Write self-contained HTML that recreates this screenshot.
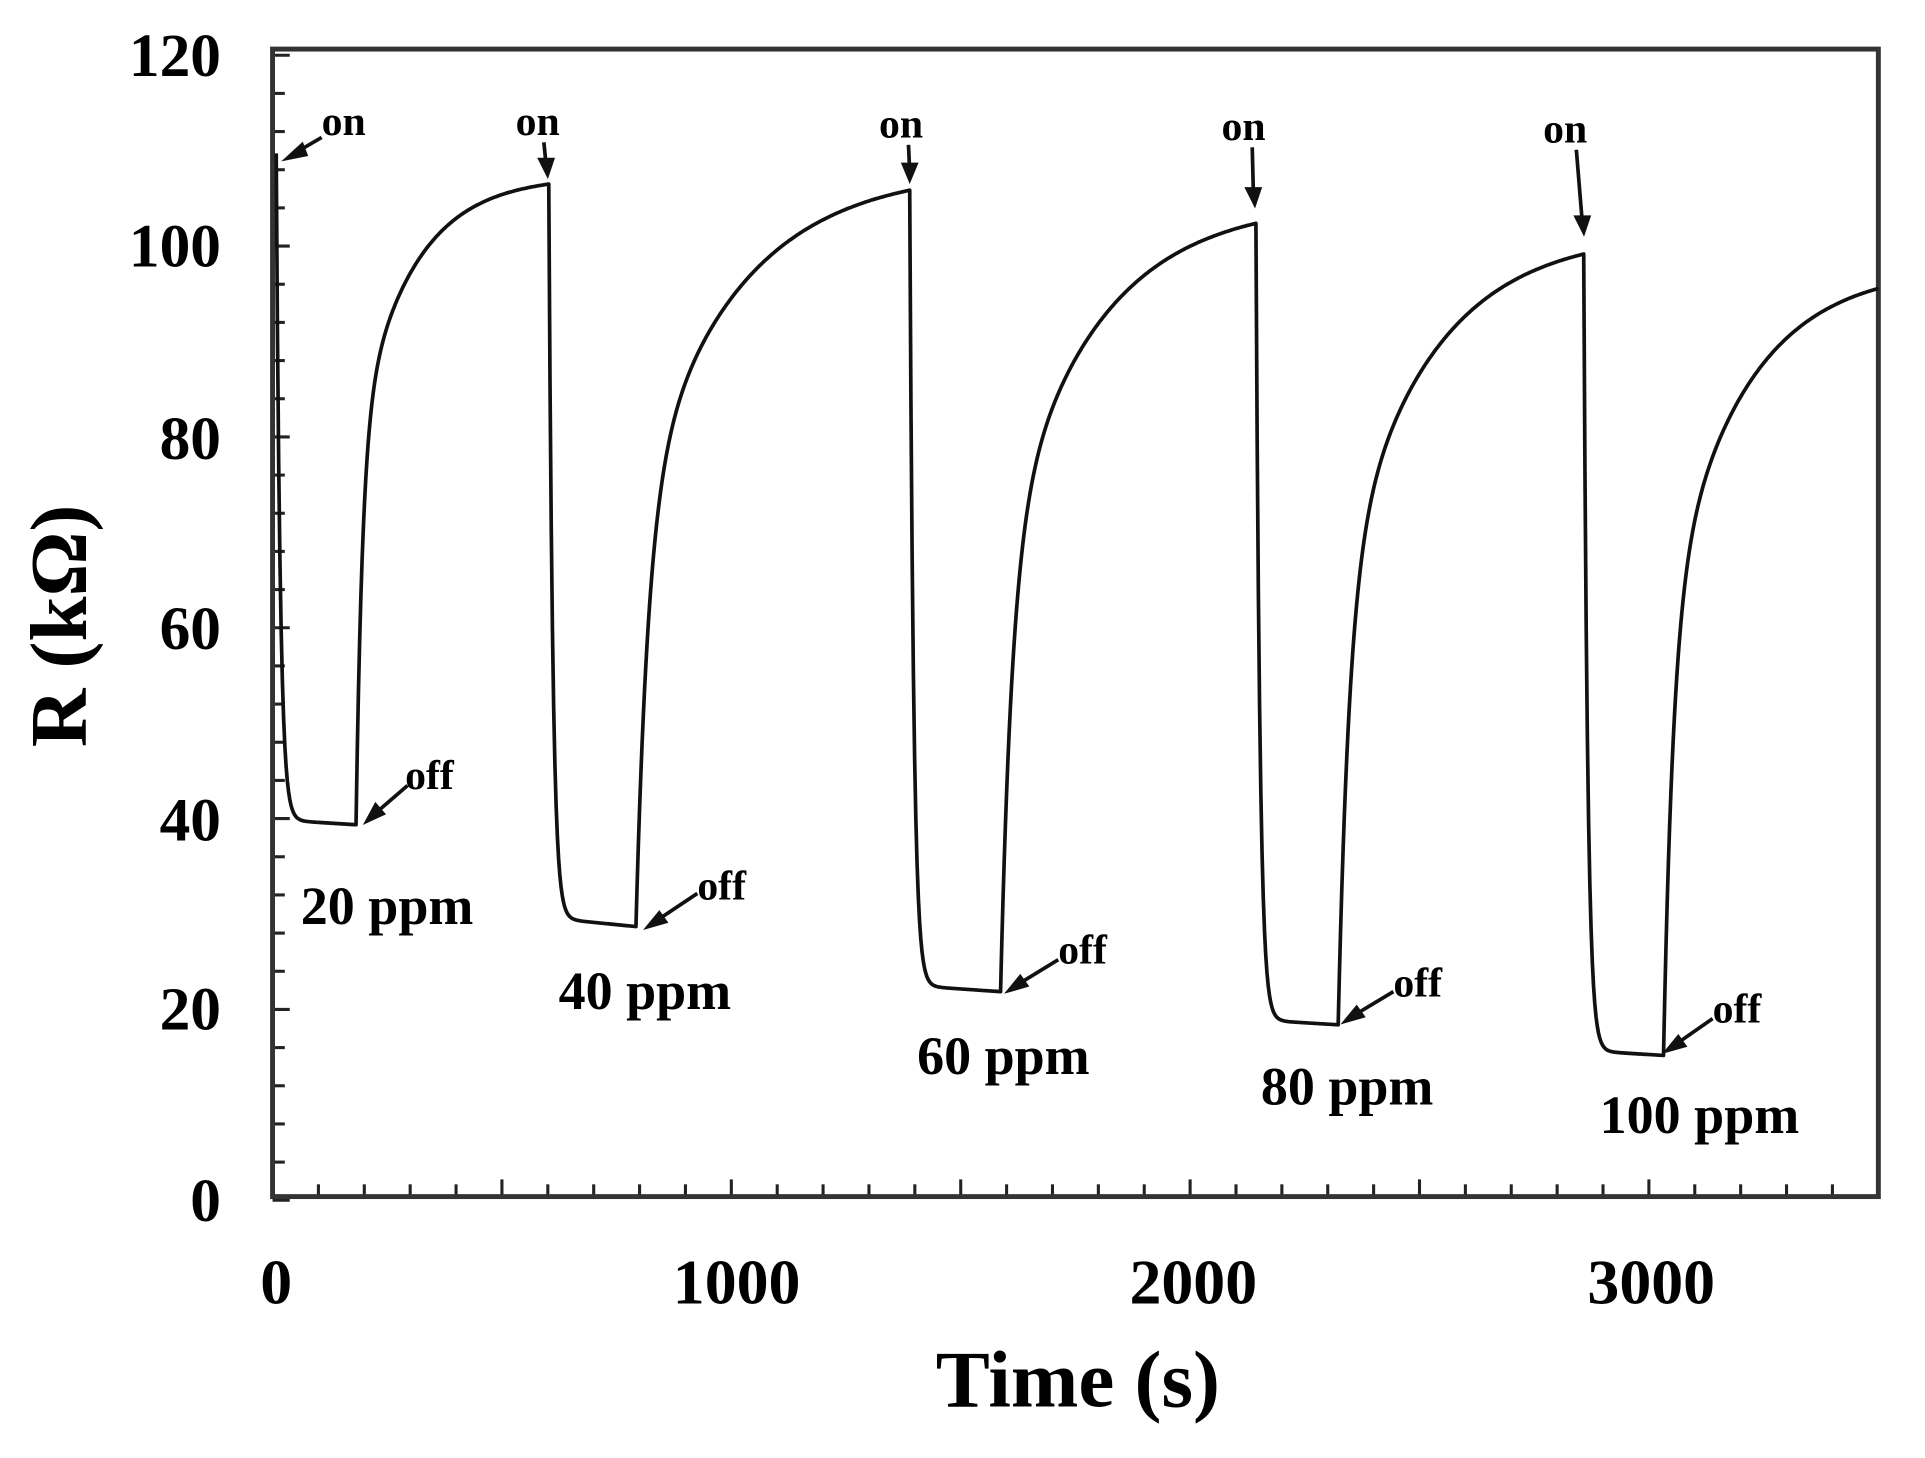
<!DOCTYPE html>
<html><head><meta charset="utf-8"><style>
html,body{margin:0;padding:0;background:#fff;}
svg{display:block;}
text{font-family:"Liberation Serif",serif;font-weight:bold;fill:#000;}
</style></head><body>
<svg id="s" width="1925" height="1458" viewBox="0 0 1568 1188" preserveAspectRatio="none" xmlns="http://www.w3.org/2000/svg">
<rect x="0" y="0" width="1568" height="1188" fill="#fff"/>
<g id="ticks" stroke="#222" stroke-width="2.5"></g>
<rect x="222" y="40" width="1308" height="935" fill="none" stroke="#333" stroke-width="4"/>
<path id="curve" fill="none" stroke="#111" stroke-width="3" stroke-linejoin="round"/>
<g font-size="50" text-anchor="end">
<text x="180" y="62">120</text><text x="180" y="217">100</text><text x="180" y="374">80</text>
<text x="180" y="529">60</text><text x="180" y="685">40</text><text x="180" y="839">20</text><text x="180" y="995">0</text>
</g>
<g font-size="52" text-anchor="middle">
<text x="225" y="1062">0</text><text x="600" y="1062">1000</text><text x="972" y="1062">2000</text><text x="1345" y="1062">3000</text>
</g>
<text x="878" y="1146" font-size="66" text-anchor="middle">Time (s)</text>
<text transform="translate(70,510) rotate(-90)" font-size="66" text-anchor="middle">R (kΩ)</text>
<g font-size="34">
<text x="262" y="110">on</text><text x="420" y="110">on</text><text x="716" y="112">on</text><text x="995" y="114">on</text><text x="1257" y="116">on</text>
<text x="330" y="643">off</text><text x="568" y="733">off</text><text x="862" y="785">off</text><text x="1135" y="812">off</text><text x="1395" y="833">off</text>
</g>
<g font-size="44">
<text x="245" y="753">20 ppm</text><text x="455" y="822">40 ppm</text><text x="747" y="875">60 ppm</text><text x="1027" y="900">80 ppm</text><text x="1303" y="923">100 ppm</text>
</g>
<g stroke="#111" stroke-width="3" fill="#111">
<line x1="262" y1="112" x2="238" y2="126"/><polygon points="234,129 246,118 249,126"/>
<line x1="443" y1="116" x2="445" y2="136"/><polygon points="446,142 440,130 450,130"/>
<line x1="740" y1="118" x2="741" y2="140"/><polygon points="741,146 736,134 746,134"/>
<line x1="1020" y1="120" x2="1021" y2="160"/><polygon points="1022,166 1016,154 1026,154"/>
<line x1="1284" y1="122" x2="1289" y2="183"/><polygon points="1290,189 1284,177 1294,177"/>
<line x1="332" y1="640" x2="302" y2="666"/><polygon points="299,669 306,656 312,663"/>
<line x1="568" y1="728" x2="532" y2="752"/><polygon points="528,755 537,744 542,751"/>
<line x1="862" y1="782" x2="826" y2="804"/><polygon points="822,807 831,796 836,803"/>
<line x1="1135" y1="808" x2="1100" y2="829"/><polygon points="1096,832 1105,821 1110,828"/>
<line x1="1395" y1="830" x2="1362" y2="853"/><polygon points="1358,856 1367,845 1372,852"/>
</g>
</svg>
<script>
var tk=document.getElementById('ticks'),h='';
for(var t=0;t<=3500;t+=100){var x=222+t*0.3737;var L=(t%500==0)?14:10;h+='<line x1="'+x+'" y1="975" x2="'+x+'" y2="'+(975-L)+'"/>';}
for(var v=0;v<=120;v+=4){var y=978-v*7.775;var L=(v%20==0)?14:10;h+='<line x1="222" y1="'+y+'" x2="'+(222+L)+'" y2="'+y+'"/>';}
tk.innerHTML=h;
var cyc=[
 {on:225,top:125,low:668,off:290,lowEnd:672},
 {on:447,top:150,low:748,off:518,lowEnd:755},
 {on:741,top:155,low:803,off:815,lowEnd:808},
 {on:1023,top:182,low:831,off:1090,lowEnd:835},
 {on:1290,top:207,low:856,off:1355,lowEnd:860}
];
var tops=[150,155,182,207,235],ends=[447,741,1023,1290,1530];
var d='M'+cyc[0].on+','+cyc[0].top;
for(var i=0;i<5;i++){
 var c=cyc[i];
 for(var x=c.on;x<=c.off;x+=1){var dx=x-c.on;var frac=(x-c.on)/(c.off-c.on);
  var base=c.low+(c.lowEnd-c.low)*frac;
  var y=base+(c.top-base)*Math.exp(-dx/3.2);
  d+=' L'+x+','+y.toFixed(1);}
 var L=ends[i]-c.off,yl=c.lowEnd,yt=tops[i];
 var sp=(i==0)?3.5:2.8;
 var w=(i==0)?0.6:0.55, fr=(i==0)?30:22;
 var norm=1-(1-w)*Math.exp(-sp);
 for(var x=c.off;x<=ends[i];x+=1){var u=(x-c.off)/L;
  var f=(1-w*Math.exp(-fr*u)-(1-w)*Math.exp(-sp*u))/norm;
  var y=yl-(yl-yt)*f;d+=' L'+x+','+y.toFixed(1);}
}
document.getElementById('curve').setAttribute('d',d);
</script>
</body></html>
